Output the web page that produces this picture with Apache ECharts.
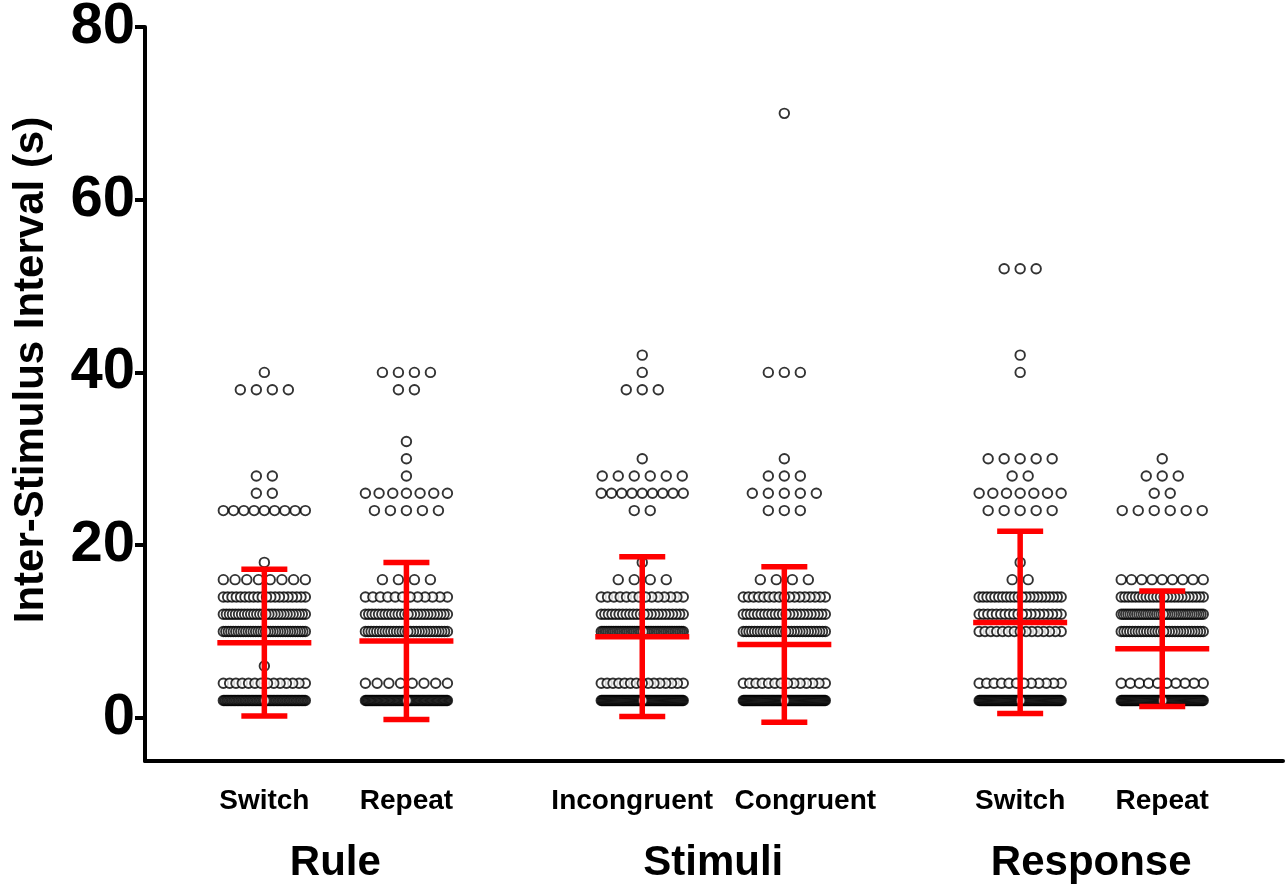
<!DOCTYPE html>
<html>
<head>
<meta charset="utf-8">
<script src="https://cdn.jsdelivr.net/npm/echarts@6/dist/echarts.min.js"></script>
<style>
  html, body { margin: 0; padding: 0; background: #fff; }
  #chart { width: 1287px; height: 886px; }
</style>
</head>
<body>
<div id="chart"></div>
<script>
// Condition labels along the x axis and the three task factors they belong to
const categories = ['Switch', 'Repeat', 'Incongruent', 'Congruent', 'Switch', 'Repeat'];
const groups = ['Rule', 'Stimuli', 'Response'];
// Column positions on the x scale (pairs, with a gap between factors)
const positions = [1, 2, 3.66, 4.66, 6.32, 7.32];

// Inter-stimulus intervals per condition: [seconds, number of trials]
const ruleSwitch = [[2, 60], [4, 14], [6, 1], [10, 34], [12, 28], [14, 20], [16, 8], [18, 1],
  [24, 9], [26, 2], [28, 2], [38, 4], [40, 1]];
const ruleRepeat = [[2, 70], [4, 8], [10, 30], [12, 26], [14, 12], [16, 4], [24, 5], [26, 7],
  [28, 1], [30, 1], [32, 1], [38, 2], [40, 4]];
const stimIncongruent = [[2, 80], [4, 15], [10, 48], [12, 24], [14, 14], [16, 4], [18, 1],
  [24, 2], [26, 9], [28, 6], [30, 1], [38, 3], [40, 1], [42, 1]];
const stimCongruent = [[2, 80], [4, 14], [10, 30], [12, 24], [14, 17], [16, 4], [24, 3],
  [26, 5], [28, 3], [30, 1], [40, 3], [70, 1]];
const respSwitch = [[2, 80], [4, 12], [10, 15], [12, 20], [14, 22], [16, 2], [18, 1], [24, 5],
  [26, 7], [28, 2], [30, 5], [40, 1], [42, 1], [52, 3]];
const respRepeat = [[2, 80], [4, 10], [10, 30], [12, 38], [14, 24], [16, 9], [24, 6], [26, 2],
  [28, 3], [30, 1]];

// Mean and standard deviation per condition
const means = [8.7, 8.9, 9.4, 8.5, 11.05, 8.0];
const sds = [8.5, 9.1, 9.25, 9.0, 10.55, 6.7];

// Y axis ticks
const yTicks = [0, 20, 40, 60, 80];

const conditions = [ruleSwitch, ruleRepeat, stimIncongruent, stimCongruent, respSwitch, respRepeat];

// Spread equal values side by side (pixels); crowded rows get squeezed to a fixed width
const DOT_STEP = 16;
const ROW_SPAN = 82;
function rowPoints(pos, level, count) {
  const step = count > 1 ? Math.min(DOT_STEP, ROW_SPAN / (count - 1)) : 0;
  const offs = [];
  for (let i = 0; i < count; i++) offs.push((i - (count - 1) / 2) * step);
  // outer dots first, so the middle ones end up on top
  offs.sort((a, b) => Math.abs(b) - Math.abs(a));
  return offs.map(dx => ({ value: [pos, level], symbolOffset: [dx, 0] }));
}

const dots = [];
conditions.forEach((rows, ci) => {
  rows.forEach(([level, count]) => {
    dots.push(...rowPoints(positions[ci], level, count));
  });
});

const errorData = positions.map((p, i) => [p, means[i], sds[i]]);
const groupCenters = groups.map((g, i) => (positions[2 * i] + positions[2 * i + 1]) / 2);

const FONT = '"Liberation Sans", Arial, sans-serif';
const findIndex = (vals, v) => vals.findIndex(p => Math.abs(p - v) < 1e-6);

// The two middle labels are long; nudge them apart so they do not collide
const labelNudge = { 2: '{l|', 3: '{r|' };

const chart = echarts.init(document.getElementById('chart'), null, { renderer: 'canvas' });
chart.setOption({
  animation: false,
  backgroundColor: '#fff',
  grid: { left: 145, right: 4, top: 27, bottom: 125, containLabel: false, outerBoundsMode: 'none' },
  xAxis: [
    {
      type: 'value', min: 0.16, max: 8.17,
      axisLine: { show: true, onZero: false, lineStyle: { color: '#000', width: 4 } },
      axisTick: { show: false },
      splitLine: { show: false },
      axisLabel: {
        customValues: positions,
        formatter: v => {
          const i = findIndex(positions, v);
          if (i < 0) return '';
          return labelNudge[i] ? labelNudge[i] + categories[i] + '}' : categories[i];
        },
        fontFamily: FONT, fontWeight: 'bold', fontSize: 28, color: '#000', margin: 26,
        rich: {
          l: { fontFamily: FONT, fontWeight: 'bold', fontSize: 28, color: '#000', padding: [0, 20, 0, 0] },
          r: { fontFamily: FONT, fontWeight: 'bold', fontSize: 28, color: '#000', padding: [0, 0, 0, 42] }
        }
      }
    },
    {
      type: 'value', min: 0.16, max: 8.17, position: 'bottom',
      axisLine: { show: false },
      axisTick: { show: false },
      splitLine: { show: false },
      axisLabel: {
        customValues: groupCenters,
        formatter: v => {
          const i = findIndex(groupCenters, v);
          return i >= 0 ? groups[i] : '';
        },
        fontFamily: FONT, fontWeight: 'bold', fontSize: 42, color: '#000', margin: 81
      }
    }
  ],
  yAxis: {
    type: 'value', min: -5, max: 80,
    axisLine: { show: true, onZero: false, lineStyle: { color: '#000', width: 4 } },
    axisTick: { show: true, customValues: yTicks, length: 10, lineStyle: { color: '#000', width: 4 } },
    splitLine: { show: false },
    axisLabel: {
      customValues: yTicks,
      fontFamily: FONT, fontWeight: 'bold', fontSize: 58, color: '#000', margin: 10
    }
  },
  graphic: [{
    type: 'text', x: 31, y: 370, rotation: Math.PI / 2,
    style: {
      text: 'Inter-Stimulus Interval (s)', fill: '#000',
      font: 'bold 42px ' + FONT, textAlign: 'center', textVerticalAlign: 'middle'
    }
  }],
  series: [
    {
      type: 'scatter',
      xAxisIndex: 0,
      data: dots,
      symbol: 'circle',
      symbolSize: 9.5,
      itemStyle: { color: '#fff', borderColor: '#000', borderWidth: 1.9 },
      emphasis: { disabled: true },
      silent: true,
      z: 2
    },
    {
      type: 'custom',
      xAxisIndex: 0,
      data: errorData,
      encode: { x: 0, y: 1 },
      silent: true,
      z: 3,
      renderItem(params, api) {
        const x = api.value(0), m = api.value(1), s = api.value(2);
        const top = api.coord([x, m + s]);
        const bot = api.coord([x, m - s]);
        const mid = api.coord([x, m]);
        const style = { stroke: '#ff0000', lineWidth: 5.5, fill: null };
        const capW = 23, meanW = 47;
        return {
          type: 'group',
          children: [
            { type: 'line', shape: { x1: top[0], y1: top[1], x2: bot[0], y2: bot[1] }, style },
            { type: 'line', shape: { x1: top[0] - capW, y1: top[1], x2: top[0] + capW, y2: top[1] }, style },
            { type: 'line', shape: { x1: bot[0] - capW, y1: bot[1], x2: bot[0] + capW, y2: bot[1] }, style },
            { type: 'line', shape: { x1: mid[0] - meanW, y1: mid[1], x2: mid[0] + meanW, y2: mid[1] }, style }
          ]
        };
      }
    }
  ]
});
</script>
</body>
</html>
